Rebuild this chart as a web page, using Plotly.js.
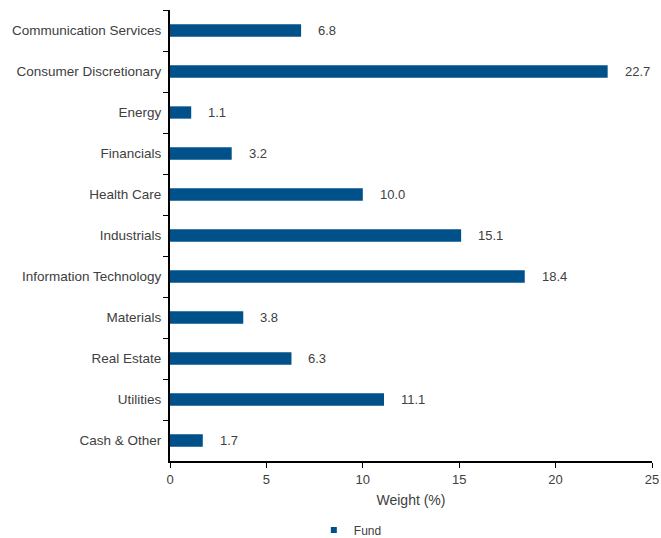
<!DOCTYPE html>
<html><head><meta charset="utf-8">
<script src="https://cdn.plot.ly/plotly-3.0.1.min.js"></script>
<style>html,body{margin:0;padding:0;background:#fff;}#chart{width:661px;height:538px;}</style>
</head><body><div id="chart"></div>
<script>
const categories = ["Communication Services","Consumer Discretionary","Energy","Financials","Health Care","Industrials","Information Technology","Materials","Real Estate","Utilities","Cash & Other"];
const fundValues = [6.8,22.7,1.1,3.2,10.0,15.1,18.4,3.8,6.3,11.1,1.7];
const xTicks = [0,5,10,15,20,25];
const seriesName = "Fund";

const barColor = "#00508A";
const textColor = "#404040";
const fontFam = "Liberation Sans, Arial, sans-serif";

const trace = {
  type: "bar", orientation: "h",
  x: fundValues, y: categories, name: seriesName,
  marker: {color: barColor}, width: 0.3, showlegend: false,
  hoverinfo: "x+y"
};
const legendTrace = {
  type: "scatter", mode: "markers", x: [null], y: [null], name: seriesName,
  marker: {symbol: "square", size: 6, color: barColor}, showlegend: true
};
const annotations = fundValues.map((v,i)=>({
  x: v, y: categories[i], xref: "x", yref: "y",
  text: v.toFixed(1), showarrow: false, xanchor: "left", xshift: 15,
  font: {family: fontFam, size: 13, color: textColor}
}));
const layout = {
  width: 661, height: 538,
  margin: {l: 170, r: 9, t: 10, b: 77},
  paper_bgcolor: "#fff", plot_bgcolor: "#fff",
  font: {family: fontFam, size: 13, color: textColor},
  showlegend: true,
  legend: {orientation: "h", x: 0.53, xref: "container", xanchor: "center", y: 0.015, yref: "container", yanchor: "middle",
           font: {size: 12}, itemwidth: 30, tracegroupgap: 0, bgcolor: "rgba(0,0,0,0)"},
  xaxis: {
    range: [0, 25], tickvals: xTicks, ticks: "outside", ticklen: 5, tickcolor: "#000",
    showline: true, linecolor: "#000", linewidth: 2, showgrid: false, zeroline: false,
    title: {text: "Weight (%)", standoff: 10, font: {size: 14}}, fixedrange: true,
    tickfont: {size: 13}, automargin: false
  },
  yaxis: {
    autorange: "reversed", type: "category", ticks: "outside", ticklen: 5, tickcolor: "#000",
    tickson: "boundaries", showline: true, linecolor: "#000", linewidth: 2, showgrid: false,
    ticklabelstandoff: 4, fixedrange: true, tickfont: {size: 13.5}, automargin: false
  },
  annotations: annotations,
  bargap: 0.7
};
Plotly.newPlot("chart", [trace, legendTrace], layout, {displayModeBar: false, staticPlot: true});
</script></body></html>
